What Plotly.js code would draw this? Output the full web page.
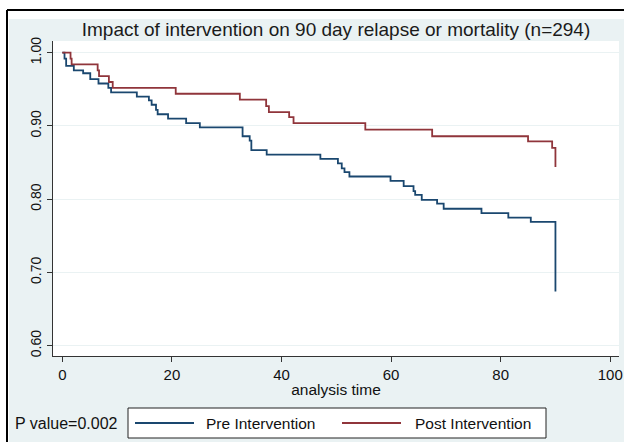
<!DOCTYPE html>
<html>
<head>
<meta charset="utf-8">
<script src="https://cdn.plot.ly/plotly-3.0.1.min.js"></script>
<style>html,body{margin:0;padding:0;background:#fff;}</style>
</head>
<body>
<div id="chart" style="width:624px;height:442px;"></div>
<script>
// ---- data ----
const chartTitle = "Impact of intervention on 90 day relapse or mortality (n=294)";
const xAxisLabel = "analysis time";
const pValueText = "P value=0.002";
const seriesNames = ["Pre Intervention", "Post Intervention"];

const preTime = [0, 0.4, 0.7, 2.1, 3.8, 5.1, 6.6, 8.4, 8.9, 13.6, 15.8, 16.3, 17.1, 17.4, 19.3, 22.6, 25.1,
  32.9, 34.2, 34.5, 37.3, 47.1, 50.3, 51.0, 51.5, 52.4, 59.9, 62.3, 64.1, 64.4, 65.6, 68.4, 69.6, 76.5, 81.4, 85.5, 90.0];
const preSurv = [1.000, 0.992, 0.982, 0.976, 0.972, 0.964, 0.958, 0.952, 0.946, 0.940, 0.935, 0.929, 0.922, 0.916, 0.910, 0.904, 0.898,
  0.886, 0.880, 0.867, 0.861, 0.855, 0.849, 0.842, 0.837, 0.831, 0.825, 0.818, 0.811, 0.806, 0.799, 0.794, 0.787, 0.781, 0.775, 0.769, 0.674];

const postTime = [0, 1.5, 1.7, 6.45, 6.7, 8.5, 9.2, 20.7, 32.4, 37.2, 37.7, 41.4, 42.2, 55.3, 67.5, 85.0, 89.4, 90.0];
const postSurv = [1.000, 0.992, 0.984, 0.976, 0.968, 0.960, 0.952, 0.944, 0.936, 0.927, 0.919, 0.912, 0.904, 0.895, 0.886, 0.879, 0.870, 0.844];

const xTickVals = [0, 20, 40, 60, 80, 100];
const yTickVals = [0.6, 0.7, 0.8, 0.9, 1.0];

// ---- layout geometry ----
const W = 624, H = 442;
const M = {l: 53, r: 5, t: 41, b: 86};
const PW = W - M.l - M.r, PH = H - M.t - M.b;
const px = x => (x - M.l) / PW;          // pixel -> paper x
const py = y => (H - M.b - y) / PH;      // pixel -> paper y

const bg = "#EAF2F3";
const navy = "#1A476F", maroon = "#90353B";
const font = "Liberation Sans, Arial, Helvetica, sans-serif";
const colors = [navy, maroon];

const traces = [
  {x: preTime, y: preSurv, name: seriesNames[0], type: "scatter", mode: "lines",
   line: {shape: "hv", color: navy, width: 1.8}},
  {x: postTime, y: postSurv, name: seriesNames[1], type: "scatter", mode: "lines",
   line: {shape: "hv", color: maroon, width: 1.8}}
];

// legend (Stata style box below the plot)
const legBox = {x0: 128, x1: 546, y0: 408, y1: 438};
const legItems = [{lx0: 135, lx1: 194, tx: 204}, {lx0: 342, lx1: 401, tx: 413}];
const legY = 423;

const shapes = [
  // white outside the frame
  {type: "rect", xref: "paper", yref: "paper", x0: px(-5), x1: px(W + 5), y0: py(-5), y1: py(19),
   fillcolor: "#ffffff", line: {width: 0}},
  {type: "rect", xref: "paper", yref: "paper", x0: px(-5), x1: px(9), y0: py(-5), y1: py(H + 5),
   fillcolor: "#ffffff", line: {width: 0}},
  // black frame (top and left)
  {type: "line", xref: "paper", yref: "paper", x0: px(7), x1: px(W + 5), y0: py(10), y1: py(10),
   line: {color: "#000", width: 2}},
  {type: "line", xref: "paper", yref: "paper", x0: px(7), x1: px(7), y0: py(10), y1: py(H + 5),
   line: {color: "#000", width: 2}},
  // legend box
  {type: "rect", xref: "paper", yref: "paper", x0: px(legBox.x0), x1: px(legBox.x1), y0: py(legBox.y1), y1: py(legBox.y0),
   fillcolor: "#ffffff", line: {color: "#222", width: 1}}
];
const annotations = [
  {text: pValueText, xref: "paper", yref: "paper", x: px(13), y: py(legY), xanchor: "left", yanchor: "middle",
   showarrow: false, font: {size: 16, color: "#111"}}
];
legItems.forEach((it, i) => {
  shapes.push({type: "line", xref: "paper", yref: "paper", x0: px(it.lx0), x1: px(it.lx1), y0: py(legY), y1: py(legY),
               line: {color: colors[i], width: 1.8}});
  annotations.push({text: seriesNames[i], xref: "paper", yref: "paper", x: px(it.tx), y: py(legY),
                    xanchor: "left", yanchor: "middle", showarrow: false, font: {size: 15.5, color: "#111"}});
});

const layout = {
  width: W, height: H,
  margin: M,
  paper_bgcolor: bg,
  plot_bgcolor: "#ffffff",
  font: {family: font, color: "#111", size: 15},
  title: {text: chartTitle, font: {family: font, size: 19, color: "#1b1b1b"},
          x: 0.5, xref: "paper", xanchor: "center", y: 1 - 29 / H, yref: "container", yanchor: "middle"},
  xaxis: {range: [-1.7, 101.6], tickvals: xTickVals, ticks: "outside", ticklen: 5, tickwidth: 1, tickcolor: "#333",
          showline: true, linecolor: "#333", linewidth: 1, showgrid: false, zeroline: false,
          tickfont: {size: 15, color: "#111"},
          title: {text: xAxisLabel, font: {size: 15.5, color: "#111"}, standoff: 2}},
  yaxis: {range: [0.586, 1.016], tickvals: yTickVals, tickformat: ".2f", ticks: "outside", ticklen: 5, tickwidth: 1,
          tickcolor: "#333", tickangle: -90, showline: true, linecolor: "#333", linewidth: 1,
          showgrid: true, gridcolor: bg, gridwidth: 1, zeroline: false,
          tickfont: {size: 14, color: "#111"}},
  showlegend: false,
  shapes: shapes,
  annotations: annotations
};

Plotly.newPlot("chart", traces, layout, {displayModeBar: false, staticPlot: true});
</script>
</body>
</html>
